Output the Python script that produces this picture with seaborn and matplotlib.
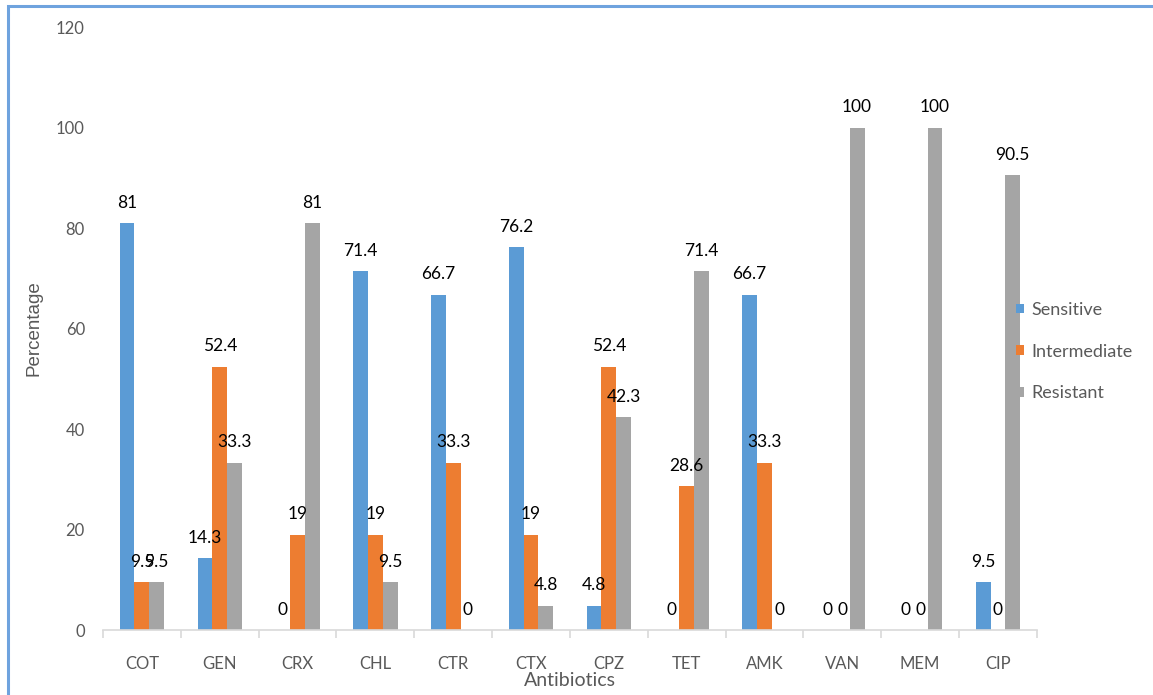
import numpy as np
import pandas as pd
import matplotlib
matplotlib.use("Agg")
import matplotlib.pyplot as plt
from matplotlib.patches import Rectangle
from matplotlib.ticker import FixedLocator, MultipleLocator
import seaborn as sns

antibiotics = ["COT", "GEN", "CRX", "CHL", "CTR", "CTX", "CPZ", "TET", "AMK", "VAN", "MEM", "CIP"]
sensitive = [81, 14.3, 0, 71.4, 66.7, 76.2, 4.8, 0, 66.7, 0, 0, 9.5]
intermediate = [9.5, 52.4, 19, 19, 33.3, 19, 52.4, 28.6, 33.3, 0, 0, 0]
resistant = [9.5, 33.3, 81, 9.5, 0, 4.8, 42.3, 71.4, 0, 100, 100, 90.5]
series_names = ["Sensitive", "Intermediate", "Resistant"]
series_colors = ["#5B9BD5", "#ED7D31", "#A5A5A5"]

df = pd.DataFrame({
    "Antibiotics": antibiotics * 3,
    "Percentage": sensitive + intermediate + resistant,
    "Result": sum([[n] * len(antibiotics) for n in series_names], []),
})

sns.set_theme(style="white")
plt.rcParams["font.family"] = ["Lato", "DejaVu Sans"]

fig = plt.figure(figsize=(11.53, 6.95), dpi=100)
ax = fig.add_axes([0.0893, 0.0935, 0.8100, 0.8675])

sns.barplot(data=df, x="Antibiotics", y="Percentage", hue="Result",
            order=antibiotics, hue_order=series_names,
            palette=series_colors, width=0.57, gap=0, saturation=1,
            edgecolor="none", linewidth=0, ax=ax, legend=True)

for cont in ax.containers:
    vals = [b.get_height() for b in cont]
    ax.bar_label(cont, labels=[f"{v:g}" for v in vals], padding=9,
                 fontsize=12.5, color="#000000")

ax.set_xlim(-0.5, len(antibiotics) - 0.5)
ax.set_ylim(0, 120)
ax.yaxis.set_major_locator(MultipleLocator(20))

for s in ["top", "right", "left"]:
    ax.spines[s].set_visible(False)
ax.spines["bottom"].set_color("#D9D9D9")
ax.spines["bottom"].set_linewidth(1.2)

ax.tick_params(axis="x", which="major", length=0, pad=19, labelsize=12, labelcolor="#595959")
ax.xaxis.set_minor_locator(FixedLocator(np.arange(-0.5, len(antibiotics), 1.0)))
ax.tick_params(axis="x", which="minor", length=6, width=1.2, color="#D9D9D9", bottom=True)
ax.tick_params(axis="y", length=0, pad=13, labelsize=12, labelcolor="#595959")

ax.set_xlabel("Antibiotics", fontsize=14, color="#595959", labelpad=0)
ax.set_ylabel("Percentage", fontsize=13.5, color="#595959", labelpad=10,
              family=["Liberation Sans", "DejaVu Sans"])

handles, labels = ax.get_legend_handles_labels()
ax.legend(handles, labels, loc="center left", bbox_to_anchor=(0.881, 0.494),
          bbox_transform=fig.transFigure, frameon=False, fontsize=13,
          handlelength=0.45, handleheight=0.45, handletextpad=0.4,
          labelspacing=1.42, labelcolor="#595959", borderaxespad=0,
          borderpad=0)

# outer chart-area frame
fig.patches.append(Rectangle((8 / 1153, -0.1), 1.2, (695 - 6) / 695 + 0.1,
                             transform=fig.transFigure, fill=False,
                             edgecolor="#6FA3DE", linewidth=2.2, zorder=10))

fig.savefig("out.png", dpi=100)
